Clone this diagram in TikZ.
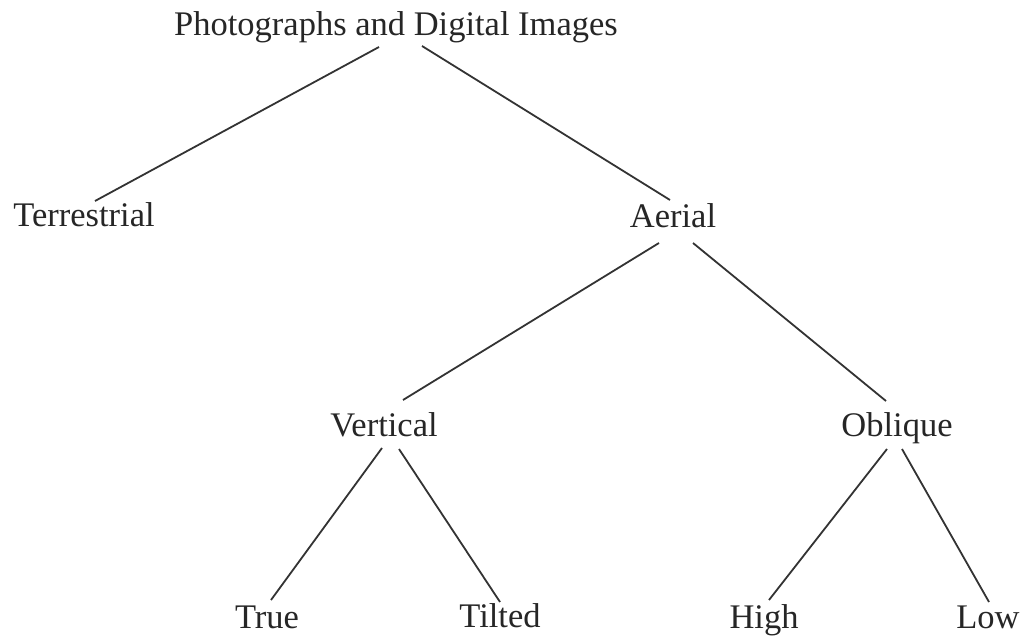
\documentclass[tikz,border=0pt]{standalone}
\usepackage{fontspec}
\setmainfont{Liberation Serif}
\begin{document}
\begin{tikzpicture}[x=1pt,y=-1pt,
  lbl/.style={anchor=base,inner sep=0pt,text=black!85,font=\fontsize{34.5}{40}\selectfont},
  link/.style={draw=black!80,line width=1.8pt}]
\useasboundingbox (0,0) rectangle (1023,636);
\node[lbl] (root) at (396,36) {Photographs and Digital Images};
\node[lbl] (terr) at (84,227) {Terrestrial};
\node[lbl] (aer) at (673,228) {Aerial};
\node[lbl] (vert) at (384,436) {Vertical};
\node[lbl] (obl) at (897,436) {Oblique};
\node[lbl] (true) at (267,628) {True};
\node[lbl] (tilt) at (500,627) {Tilted};
\node[lbl] (high) at (764,628) {High};
\node[lbl] (low) at (988,628) {Low};
\draw[link] ([shift={(-17,11)}]root.base) -- ([shift={(11,-26)}]terr.base);
\draw[link] ([shift={(26,10)}]root.base) -- ([shift={(-3,-28)}]aer.base);
\draw[link] ([shift={(-14,15)}]aer.base) -- ([shift={(19,-36)}]vert.base);
\draw[link] ([shift={(20,15)}]aer.base) -- ([shift={(-11,-35)}]obl.base);
\draw[link] ([shift={(-2,12)}]vert.base) -- ([shift={(4,-28)}]true.base);
\draw[link] ([shift={(15,13)}]vert.base) -- ([shift={(0,-25)}]tilt.base);
\draw[link] ([shift={(-10,13)}]obl.base) -- ([shift={(5,-28)}]high.base);
\draw[link] ([shift={(5,13)}]obl.base) -- ([shift={(1,-26)}]low.base);
\end{tikzpicture}
\end{document}
